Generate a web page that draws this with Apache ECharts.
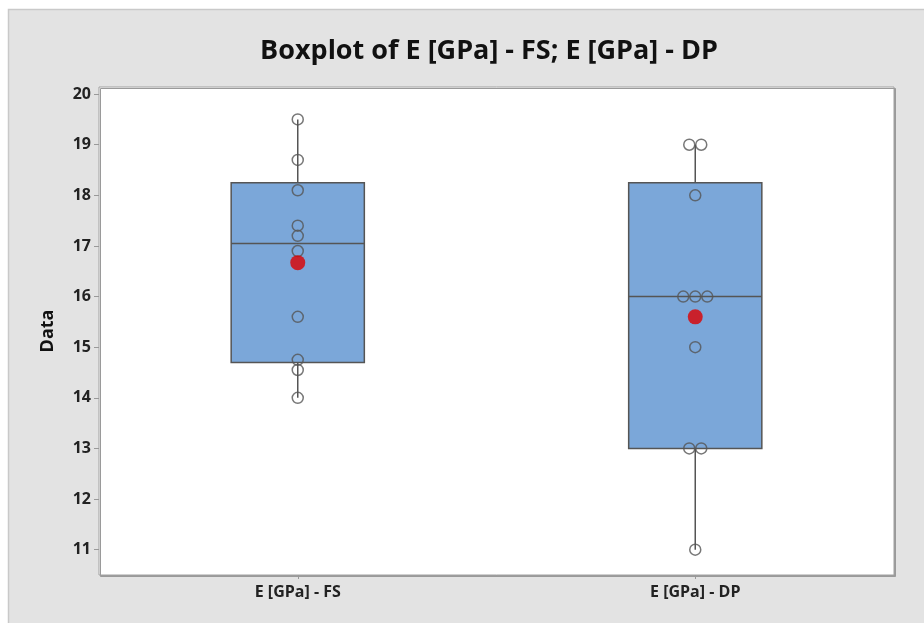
<!DOCTYPE html>
<html>
<head>
<meta charset="utf-8">
<script src="https://cdn.jsdelivr.net/npm/echarts@6/dist/echarts.min.js"></script>
<style>
  html, body { margin: 0; padding: 0; background: #fff; }
  #main { width: 924px; height: 623px; }
</style>
</head>
<body>
<div id="main"></div>
<script>
var chartDom = document.getElementById('main');
var myChart = echarts.init(chartDom);
var option;

// data
const categories = ['E [GPa] - FS', 'E [GPa] - DP'];
const valuesFS = [19.5, 18.7, 18.1, 17.4, 17.2, 16.9, 15.6, 14.75, 14.55, 14.0];
const valuesDP = [19, 19, 18, 16, 16, 16, 15, 13, 13, 11];
const yTicks = [11, 12, 13, 14, 15, 16, 17, 18, 19, 20];

// Minitab style quartiles: position p*(n+1)
function quantile(sorted, p) {
  const pos = p * (sorted.length + 1);
  const lo = Math.floor(pos);
  const frac = pos - lo;
  if (lo < 1) return sorted[0];
  if (lo >= sorted.length) return sorted[sorted.length - 1];
  return sorted[lo - 1] + frac * (sorted[lo] - sorted[lo - 1]);
}
function stats(vals) {
  const s = vals.slice().sort(function (a, b) { return a - b; });
  const mean = s.reduce(function (a, b) { return a + b; }, 0) / s.length;
  return { min: s[0], q1: quantile(s, 0.25), med: quantile(s, 0.5), q3: quantile(s, 0.75), max: s[s.length - 1], mean: mean };
}

const allValues = [valuesFS, valuesDP];
const boxData = [];
const meanData = [];
const pointData = [];
allValues.forEach(function (vals, i) {
  const st = stats(vals);
  boxData.push([i, st.min, st.q1, st.med, st.q3, st.max]);
  meanData.push([i, st.mean]);
  // spread equal values sideways like Minitab does
  const counts = {};
  vals.forEach(function (v) { counts[v] = (counts[v] || 0) + 1; });
  const seen = {};
  vals.forEach(function (v) {
    const k = counts[v];
    const j = seen[v] || 0;
    seen[v] = j + 1;
    pointData.push({ value: [i, v], symbolOffset: [(j - (k - 1) / 2) * 12, 0] });
  });
});

const lineColor = '#555555';

option = {
  backgroundColor: '#ffffff',
  textStyle: { fontFamily: 'Open Sans' },
  graphic: [{
    type: 'rect',
    z: -10,
    shape: { x: 8.5, y: 9.5, width: 930, height: 630 },
    style: { fill: '#e3e3e3', stroke: '#c9c9c9', lineWidth: 1.5 }
  }],
  title: {
    text: 'Boxplot of E [GPa] - FS; E [GPa] - DP',
    left: 484,
    textAlign: 'center',
    top: 33,
    textStyle: { fontFamily: 'Open Sans', fontWeight: 'bold', fontSize: 27, color: '#111' }
  },
  grid: {
    left: 99, right: 30, top: 87, bottom: 48,
    show: true,
    backgroundColor: '#ffffff',
    borderColor: '#a0a0a0',
    borderWidth: 1,
    shadowColor: '#9a9a9a',
    shadowOffsetX: 1.5,
    shadowOffsetY: 1.5
  },
  xAxis: {
    type: 'category',
    data: categories,
    boundaryGap: true,
    axisLine: { show: false },
    axisTick: { show: true, alignWithLabel: true, length: 4, lineStyle: { color: '#999' } },
    axisLabel: { margin: 9, color: '#222', fontWeight: 'bold', fontSize: 16 },
    splitLine: { show: false }
  },
  yAxis: {
    type: 'value',
    min: 10.5,
    max: 20.14,
    splitNumber: 10,
    name: 'Data',
    nameLocation: 'middle',
    nameGap: 42,
    nameTextStyle: { fontWeight: 'bold', fontSize: 18, color: '#111' },
    axisLine: { show: false },
    axisTick: { show: true, length: 5, lineStyle: { color: '#999' } },
    axisLabel: {
      margin: 8, color: '#222', fontWeight: 'bold', fontSize: 16,
      showMinLabel: false, showMaxLabel: false,
      formatter: function (v) { return yTicks.indexOf(v) >= 0 ? String(v) : ''; }
    },
    splitLine: { show: false }
  },
  series: [
    {
      type: 'custom',
      z: 2,
      data: boxData,
      renderItem: function (params, api) {
        const x = api.value(0);
        const pMin = api.coord([x, api.value(1)]);
        const pQ1 = api.coord([x, api.value(2)]);
        const pMed = api.coord([x, api.value(3)]);
        const pQ3 = api.coord([x, api.value(4)]);
        const pMax = api.coord([x, api.value(5)]);
        const half = api.size([1, 0])[0] * 0.335 / 2;
        const st = { stroke: lineColor, lineWidth: 1.5 };
        return {
          type: 'group',
          children: [
            { type: 'line', shape: { x1: pMax[0], y1: pMax[1], x2: pQ3[0], y2: pQ3[1] }, style: st },
            { type: 'line', shape: { x1: pMin[0], y1: pMin[1], x2: pQ1[0], y2: pQ1[1] }, style: st },
            { type: 'rect', shape: { x: pQ3[0] - half, y: pQ3[1], width: half * 2, height: pQ1[1] - pQ3[1] },
              style: { fill: '#7ba7d9', stroke: lineColor, lineWidth: 1.5 } },
            { type: 'line', shape: { x1: pMed[0] - half, y1: pMed[1], x2: pMed[0] + half, y2: pMed[1] }, style: st }
          ]
        };
      }
    },
    {
      type: 'scatter',
      z: 3,
      symbol: 'circle',
      symbolSize: 11,
      data: pointData,
      itemStyle: { color: 'rgba(0,0,0,0)', borderColor: lineColor, borderWidth: 1.5 },
      emphasis: { disabled: true }
    },
    {
      type: 'scatter',
      z: 4,
      symbol: 'circle',
      symbolSize: 15,
      data: meanData,
      itemStyle: { color: '#dd0000' },
      emphasis: { disabled: true }
    }
  ]
};

option && myChart.setOption(option);
</script>
</body>
</html>
